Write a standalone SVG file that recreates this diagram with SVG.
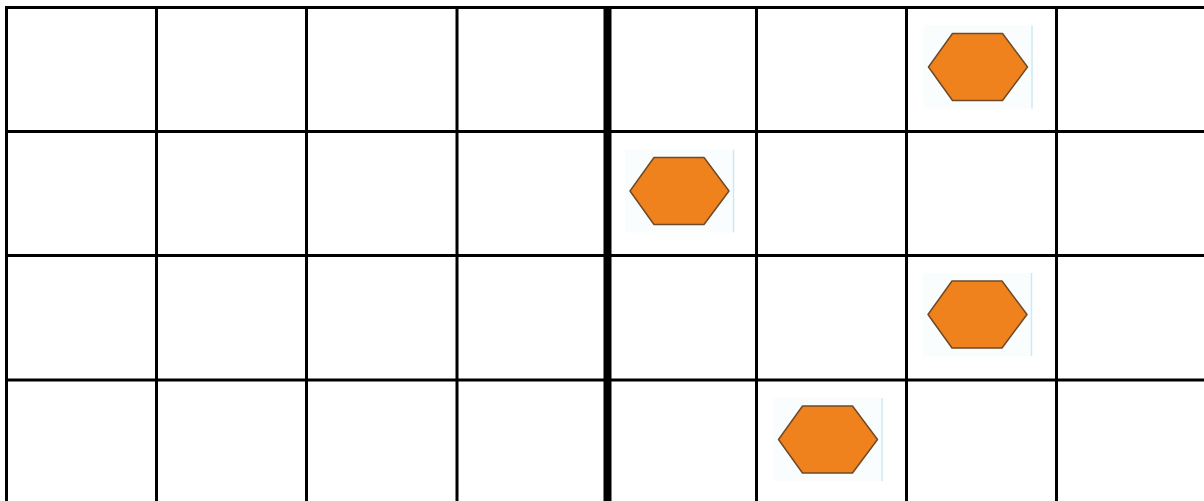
<svg xmlns="http://www.w3.org/2000/svg" width="1204" height="501" viewBox="0 0 1204 501">
<style>
.g{stroke:#000;stroke-width:3;fill:none}
.t{stroke:#000;stroke-width:8;fill:none}
.hex{fill:#F0821E;stroke:#6E4A28;stroke-width:1.5;stroke-linejoin:round}
.bl{stroke:#CDEAF4;stroke-width:1.5}
.bg{fill:#FAFDFE}
</style>
<defs>
<g id="hx">
<rect class="bg" x="-5" y="-8" width="109" height="83"/>
<polygon class="hex" points="0,33.5 24,0 74,0 99,33.5 74,67 24,67"/>
<line class="bl" x1="103.5" y1="-8" x2="103.5" y2="75"/>
</g>
</defs>
<rect width="1204" height="501" fill="#fff"/>
<g id="grid">
<line class="g" x1="5" y1="7.5" x2="1204" y2="7.5"/>
<line class="g" x1="5" y1="131.5" x2="1204" y2="131.5"/>
<line class="g" x1="5" y1="255.5" x2="1204" y2="255.5"/>
<line class="g" x1="5" y1="380" x2="1204" y2="380"/>
<line class="g" x1="6.5" y1="6" x2="6.5" y2="501"/>
<line class="g" x1="156.5" y1="6" x2="156.5" y2="501"/>
<line class="g" x1="306.5" y1="6" x2="306.5" y2="501"/>
<line class="g" x1="457" y1="6" x2="457" y2="501"/>
<line class="t" x1="607.5" y1="6" x2="607.5" y2="501"/>
<line class="g" x1="756.5" y1="6" x2="756.5" y2="501"/>
<line class="g" x1="906.5" y1="6" x2="906.5" y2="501"/>
<line class="g" x1="1056.5" y1="6" x2="1056.5" y2="501"/>
</g>
<g id="hex1"><use href="#hx" x="928.5" y="33.5"/></g>
<g id="hex2"><use href="#hx" x="630" y="157.5"/></g>
<g id="hex3"><use href="#hx" x="928" y="281"/></g>
<g id="hex4"><use href="#hx" x="778.5" y="406"/></g>
<g id="connectors"></g>
</svg>
